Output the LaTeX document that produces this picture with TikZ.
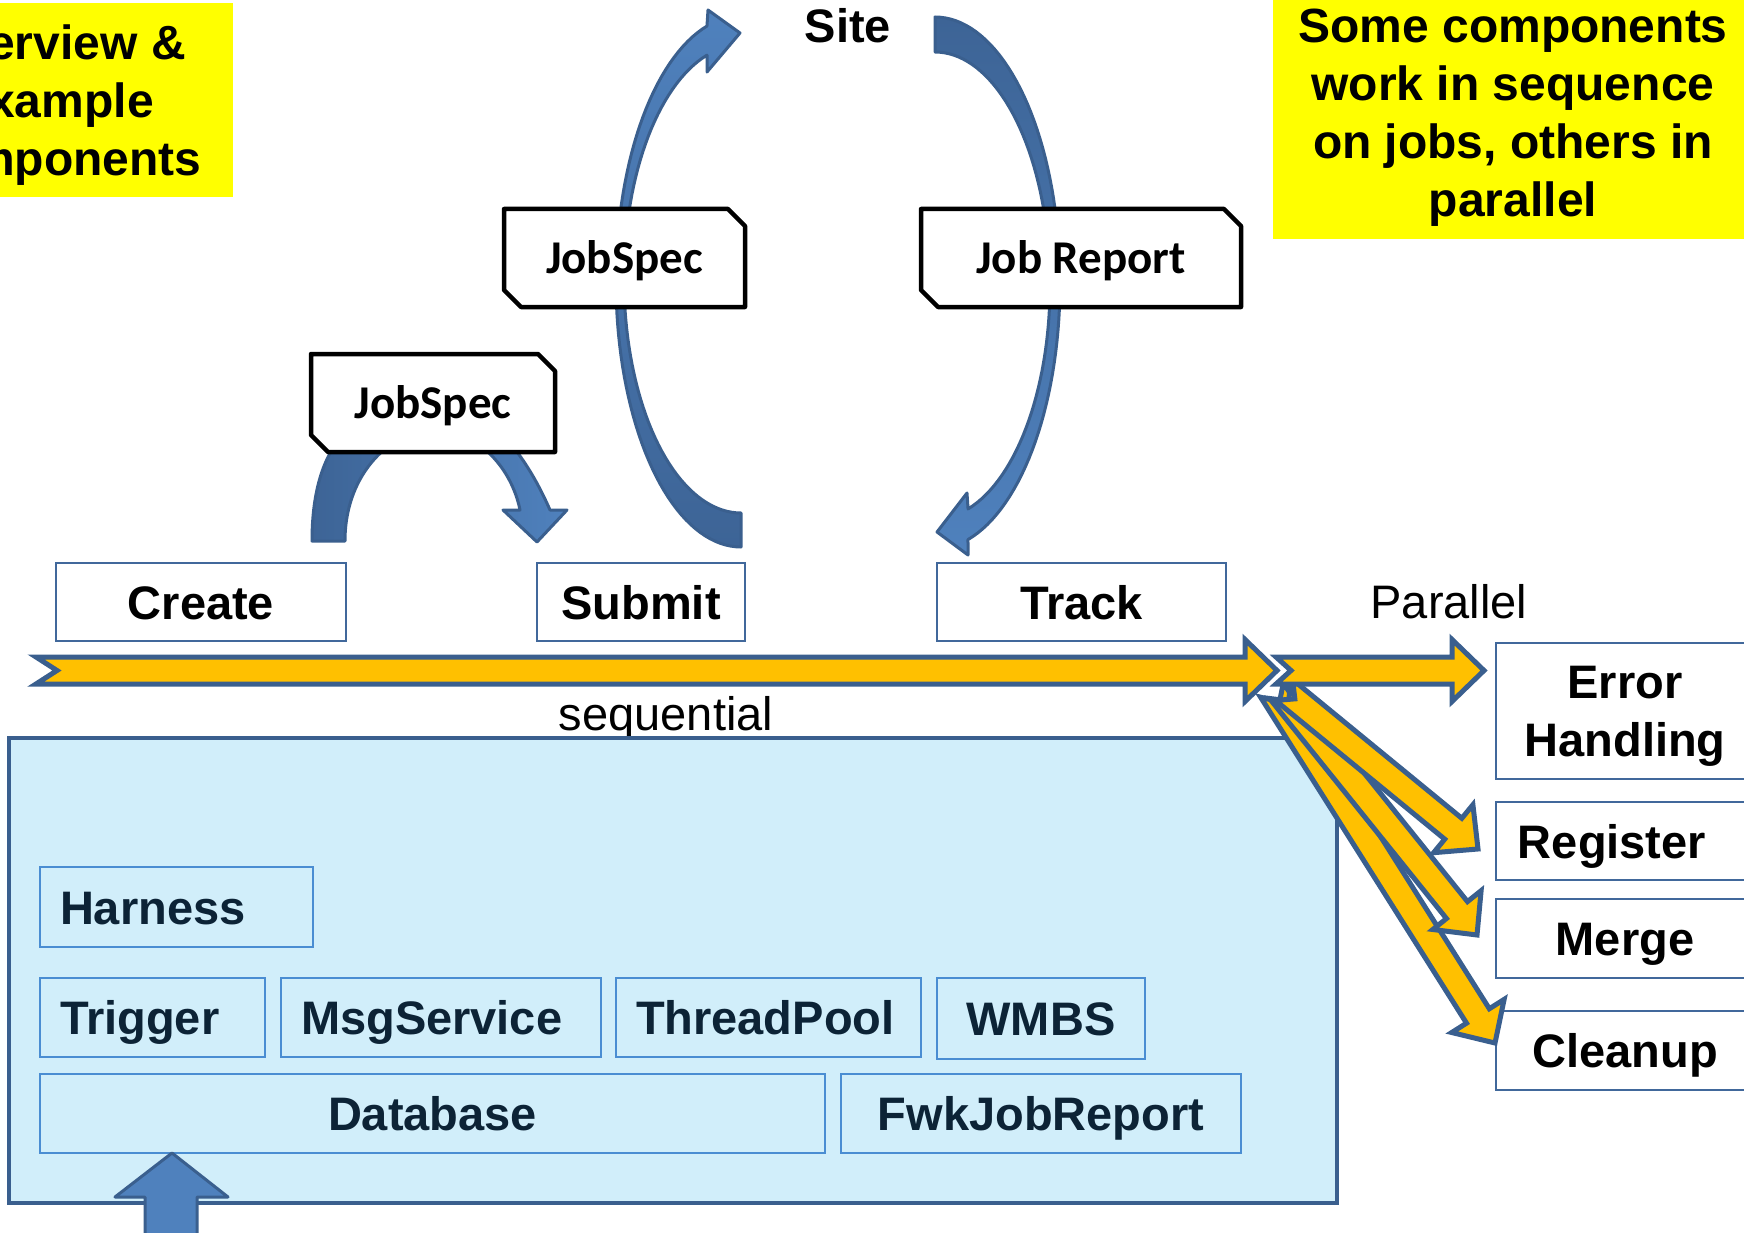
\documentclass[tikz,border=0pt]{standalone}
\usepackage{fontspec}
\setmainfont{Liberation Sans}
\newfontfamily\calfont{Carlito}
\usetikzlibrary{calc}
\definecolor{yel}{HTML}{FFFF00}
\definecolor{gold}{HTML}{FFC000}
\definecolor{navy}{HTML}{3A5F8E}
\definecolor{abl}{HTML}{4F81BD}
\definecolor{dbl}{HTML}{3D6496}
\definecolor{lbl}{HTML}{D1EEFA}
\definecolor{ibord}{HTML}{4A8DD2}
\definecolor{itext}{HTML}{0C2336}
\definecolor{wbord}{HTML}{41689B}
\tikzset{
  lab/.style={font=\fontsize{47}{56}\selectfont\bfseries, text height=34pt, text depth=0pt, inner sep=0pt},
  wbox/.style={lab, draw=wbord, line width=2.5pt, fill=white},
  ibox/.style={lab, draw=ibord, line width=2.5pt, text=itext},
  leftbox/.style={ibox, inner xsep=20pt},
  notetext/.style={font=\fontsize{48}{58}\selectfont\bfseries, align=center, inner sep=0pt},
  plain/.style={font=\fontsize{47}{56}\selectfont, inner sep=0pt, anchor=base},
  snipline/.style={draw=black, line width=4.5pt, fill=white, line join=round},
  jstext/.style={font={\calfont\fontsize{47}{56}\selectfont\bfseries}, text height=30pt, text depth=0pt, inner sep=0pt},
  yarrow/.style={fill=gold, draw=navy, line width=5pt, line join=miter},
  barrow/.style={draw=navy, line width=3pt, line join=round},
}
\newcommand\snipbox[6]{%
  \draw[snipline] (#2,#3) -- (#4-17,#3) -- (#4,#3+17) -- (#4,#5) -- (#2+17,#5) -- (#2,#5-17) -- cycle;
  \node[jstext] (#1) at ({(#2+#4)/2},{(#3+#5)/2}) {#6};}
\newcommand\blockarrow[4]{%
  \coordinate (#1a) at #2; \coordinate (#1b) at #3;
  \coordinate (#1h) at ($(#1b)!32pt!(#1a)$);
  \path[yarrow] ($(#1a)!13.5pt!90:(#1b)$) -- ($(#1h)!13.5pt!90:(#1b)$) -- ($(#1h)!31pt!90:(#1b)$) -- (#1b)
    -- ($(#1h)!31pt!-90:(#1b)$) -- ($(#1h)!13.5pt!-90:(#1b)$) -- ($(#1a)!13.5pt!-90:(#1b)$) -- ($(#1a)!#4!(#1b)$) -- cycle;}
\begin{document}
\begin{tikzpicture}[x=1pt,y=-1pt]
\useasboundingbox (0,0) rectangle (1744,1233);
\clip (0,0) rectangle (1744,1233);

% yellow notes
\fill[yel] (-140,3) rectangle (233,197);
\node[notetext] (overview) at (55,105) {Overview \&\\Example\\Components};
\fill[yel] (1273,0) rectangle (1750,239);
\node[notetext] (somecomp) at (1513,118) {Some components\\work in sequence\\on jobs, others in\\parallel};

% big curved arrows to and from the site
\path[barrow, top color=abl, bottom color=dbl]
  plot[domain=90:254.2, samples=70, variable=\t] ({741+125*cos(\t)},{281.5+265.5*sin(\t)})
  -- (708,10) -- (740,33) -- (707,72)
  -- plot[domain=253.1:90, samples=70, variable=\t] ({741+117*cos(\t)},{279+234*sin(\t)}) -- cycle;
\path[barrow, top color=dbl, bottom color=abl]
  plot[domain=270:434.7, samples=70, variable=\t] ({935+125*cos(\t)},{283+266*sin(\t)})
  -- (968,555) -- (937,532) -- (967,493)
  -- plot[domain=433.3:270, samples=70, variable=\t] ({935+115*cos(\t)},{285.4+233.4*sin(\t)}) -- cycle;

% small curved arrow Create -> Submit
\path[barrow, left color=dbl, right color=abl]
  (312,541) .. controls (312,450) and (350,400) .. (432,400)
  .. controls (470,400) and (515,430) .. (550,510)
  -- (567,510) -- (537,542) -- (503,510) -- (520,510)
  .. controls (512,470) and (480,430) .. (432,430)
  .. controls (395,430) and (345,470) .. (345,541) -- cycle;

% document boxes
\snipbox{jobspeclow}{311}{354}{555}{452}{JobSpec}
\snipbox{jobspecup}{504}{209}{745}{307}{JobSpec}
\snipbox{jobreport}{921}{209}{1241}{307}{Job Report}

\node[lab, anchor=base] (site) at (848,43) {Site};

% sequential components
\node[wbox, minimum width=290pt, minimum height=78pt] (create) at (201,602) {Create};
\node[wbox, minimum width=208pt, minimum height=78pt] (submit) at (641,602) {Submit};
\node[wbox, minimum width=289pt, minimum height=78pt] (track) at (1081.5,602) {Track};
\node[plain] (seqlabel) at (666,730) {sequential};
\node[plain] (parlabel) at (1449,618) {Parallel};

% parallel components
\draw[wbord, line width=2.5pt, fill=white] (1496,643) rectangle (1754,779);
\node[font=\fontsize{47}{58}\selectfont\bfseries, align=center, inner sep=0pt] (error) at (1625,716) {Error\\Handling};
\node[wbox, minimum width=258pt, minimum height=78pt, text width=230pt, align=center] (register) at (1625,841) {\hspace*{-26pt}Register};
\node[wbox, minimum width=258pt, minimum height=79pt] (merge) at (1625,938.5) {Merge};
\node[wbox, minimum width=258pt, minimum height=79pt] (cleanup) at (1625,1050.5) {Cleanup};

% framework box
\fill[lbl] (9,738) -- (1287,738) -- (1337,817) -- (1337,1203) -- (9,1203) -- cycle;
\draw[navy, line width=4.5pt] (1287,738) -- (9,738) -- (9,1203) -- (1337,1203) -- (1337,817);

\node[leftbox, minimum height=80pt, text width=233pt] (harness) at (176.5,907) {Harness};
\node[leftbox, minimum height=79pt, text width=185pt] (trigger) at (152.5,1017.5) {Trigger};
\node[leftbox, minimum height=79pt, text width=280pt] (msgservice) at (441,1017.5) {MsgService};
\node[leftbox, minimum height=79pt, text width=265pt] (threadpool) at (768.5,1017.5) {ThreadPool};
\node[ibox, minimum width=208pt, minimum height=81pt] (wmbs) at (1041,1018.5) {WMBS};
\node[ibox, minimum width=785pt, minimum height=79pt] (database) at (432.5,1113.5) {Database};
\node[ibox, minimum width=400pt, minimum height=79pt] (fwkjobreport) at (1041,1113.5) {FwkJobReport};

% yellow flow arrows
\blockarrow{cl}{(1272,690)}{(1495,1043)}{14pt}
\blockarrow{mg}{(1280,690)}{(1477,935)}{14pt}
\blockarrow{rg}{(1284,690)}{(1478,849)}{14pt}
\blockarrow{sq}{(36,670.5)}{(1277,670.5)}{21pt}
\blockarrow{pa}{(1276,670.5)}{(1484,670.5)}{15pt}

% input arrow at the bottom
\path[barrow, fill=abl] (145,1245) -- (145,1197) -- (115,1197) -- (172,1153) -- (228,1197) -- (197,1197) -- (197,1245) -- cycle;
\end{tikzpicture}
\end{document}
